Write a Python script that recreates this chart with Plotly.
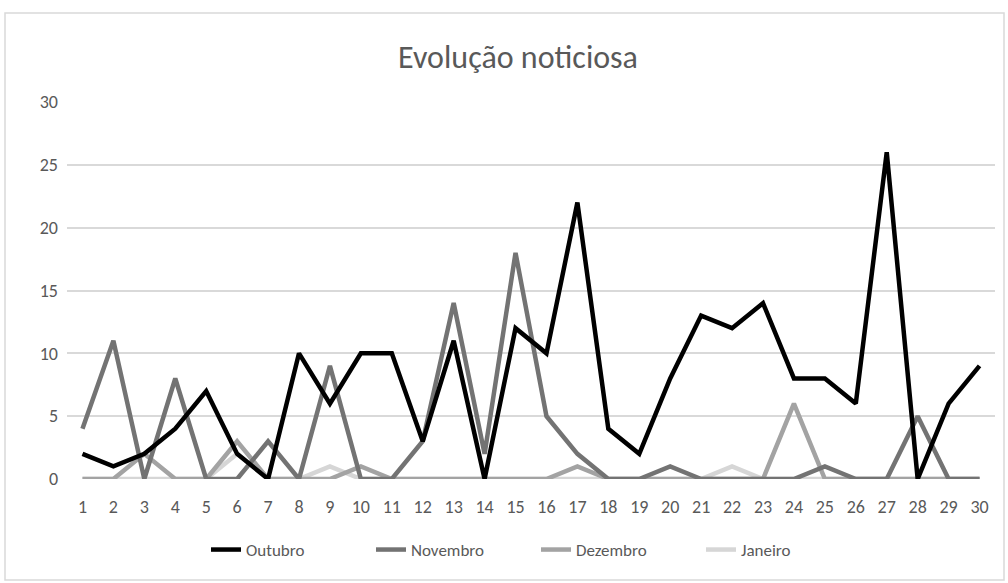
import plotly.graph_objects as go

days = list(range(1, 31))
day_labels = [str(d) for d in days]

outubro = [2, 1, 2, 4, 7, 2, 0, 10, 6, 10, 10, 3, 11, 0, 12, 10, 22, 4, 2, 8, 13, 12, 14, 8, 8, 6, 26, 0, 6, 9]
novembro = [4, 11, 0, 8, 0, 0, 3, 0, 9, 0, 0, 3, 14, 2, 18, 5, 2, 0, 0, 1, 0, 0, 0, 0, 1, 0, 0, 5, 0, 0]
dezembro = [0, 0, 2, 0, 0, 3, 0, 0, 0, 1, 0, 0, 0, 0, 0, 0, 1, 0, 0, 0, 0, 0, 0, 6, 0, 0, 0, 0, 0, 0]
janeiro = [0, 0, 0, 0, 0, 2, 0, 0, 1, 0, 0, 0, 0, 0, 0, 0, 0, 0, 0, 0, 0, 1, 0, 0, 0, 0, 0, 0, 0, 0]

series_names = ["Outubro", "Novembro", "Dezembro", "Janeiro"]
series_values = [outubro, novembro, dezembro, janeiro]
series_colors = ["#000000", "#737373", "#a3a3a3", "#d6d6d6"]

y_ticks = [0, 5, 10, 15, 20, 25, 30]

FONT = "Carlito, Calibri, Lato, 'Open Sans', sans-serif"
TXT = "#595959"

W, H = 1008, 583
L, R, T, B = 67, 13, 102, 104

fig = go.Figure()
# draw lightest first so Outubro is on top; legend reversed to keep order
for name, vals, col in reversed(list(zip(series_names, series_values, series_colors))):
    fig.add_trace(go.Scatter(
        x=days, y=vals, name=name, mode="lines",
        line=dict(color=col, width=4.5, shape="linear"),
    ))

pw = W - L - R
ph = H - T - B
def px_x(p):
    return (p - L) / pw
def px_y(p):
    return (H - B - p) / ph

fig.update_layout(
    width=W, height=H,
    margin=dict(l=L, r=R, t=T, b=B),
    paper_bgcolor="white",
    plot_bgcolor="white",
    font=dict(family=FONT, color=TXT, size=18),
    title=dict(
        text="Evolução noticiosa",
        x=518 / W, xref="container", xanchor="center",
        y=1 - 57 / H, yref="container", yanchor="middle",
        font=dict(family=FONT, size=32, color=TXT),
    ),
    showlegend=True,
    legend=dict(
        orientation="h", traceorder="reversed",
        x=px_x(536), xanchor="center",
        y=px_y(550), yanchor="middle",
        font=dict(family=FONT, size=17, color=TXT),
        itemwidth=30,
        entrywidth=120, entrywidthmode="pixels",
        bgcolor="rgba(0,0,0,0)",
    ),
    xaxis=dict(
        range=[0.5, 30.5],
        tickmode="array", tickvals=days, ticktext=day_labels,
        showgrid=False, zeroline=False,
        showline=False,
        ticks="", ticklabelstandoff=15,
        tickfont=dict(family=FONT, size=18, color=TXT),
        fixedrange=True,
    ),
    yaxis=dict(
        range=[0, 30],
        tickmode="array", tickvals=y_ticks,
        showgrid=True, gridcolor="#d9d9d9", gridwidth=1.5,
        zeroline=False, showline=False,
        ticks="", ticklabelstandoff=8,
        tickfont=dict(family=FONT, size=18, color=TXT),
        fixedrange=True,
    ),
    shapes=[
        dict(type="rect", xref="paper", yref="paper",
             x0=px_x(5), x1=px_x(1004), y0=px_y(580), y1=px_y(13),
             line=dict(color="#d9d9d9", width=1.5), fillcolor="rgba(0,0,0,0)",
             layer="below"),
    ],
)

fig.write_html(
    "out.html",
    config={"displayModeBar": False},
    post_script="document.body.style.margin='0';document.body.style.padding='0';",
)
